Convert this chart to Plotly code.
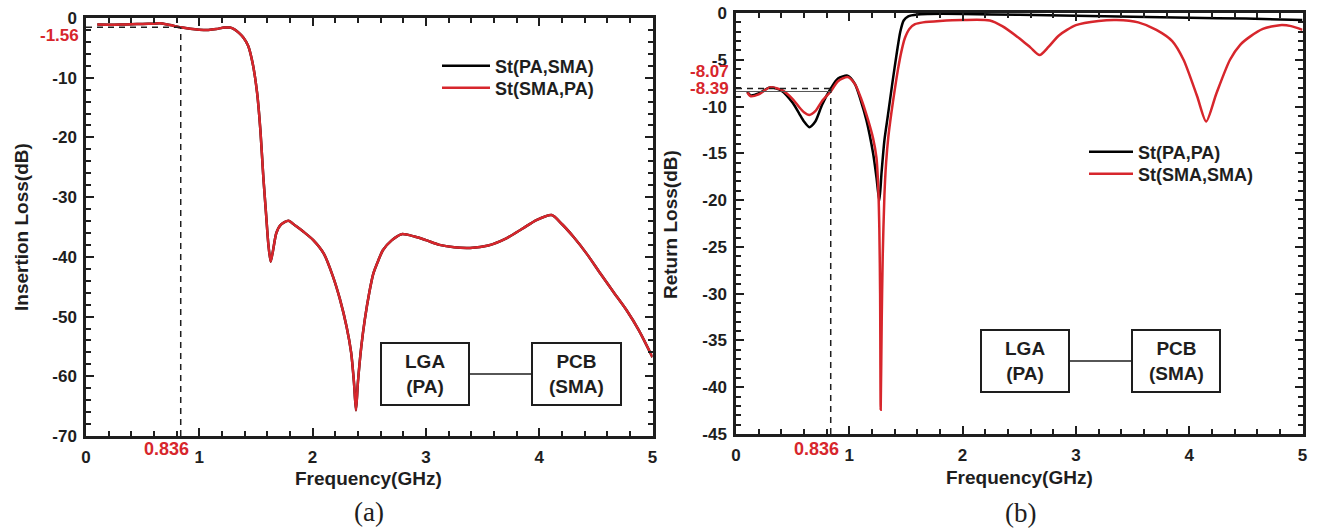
import plotly.graph_objects as go

W, H = 1319, 531
RED = "#d7262c"
INK = "#1e1e1e"
FONT = "Liberation Sans, Arial, sans-serif"

# ---------------- data: (a) insertion loss ----------------
il_freq = [0.1, 0.2, 0.3, 0.4, 0.5, 0.6, 0.65, 0.72, 0.836, 0.92, 1.0, 1.08, 1.15, 1.22, 1.27,
           1.31, 1.35, 1.39, 1.43, 1.47, 1.51, 1.54, 1.565, 1.59, 1.61, 1.63, 1.65, 1.68,
           1.72, 1.786, 1.85, 1.92, 2.006, 2.1, 2.18, 2.24, 2.30, 2.34, 2.365, 2.383, 2.40,
           2.43, 2.46, 2.5, 2.536, 2.58, 2.62, 2.7, 2.786, 2.9, 3.0, 3.12, 3.25, 3.39, 3.55,
           3.71, 3.85, 3.98, 4.11, 4.2, 4.3, 4.42, 4.54, 4.66, 4.77, 4.88, 5.0]
il_pa_sma = [-1.1, -1.12, -1.1, -1.05, -1.0, -0.95, -0.9, -1.1, -1.56, -1.8, -1.95, -2.0, -1.85,
             -1.6, -1.6, -1.9, -2.5, -3.3, -4.6, -7.5, -12.5, -19, -26.6, -33, -38, -40.8,
             -39, -36, -34.6, -33.95, -34.8, -35.8, -37.2, -39.5, -43.3, -47, -51.7, -56, -61,
             -65.7, -61, -55, -50.6, -46, -42.8, -40.6, -38.9, -37.2, -36.2, -36.6, -37.2,
             -38.0, -38.4, -38.5, -38.1, -36.9, -35.3, -33.8, -33.0, -34.5, -36.6, -39.5,
             -42.8, -46, -48.9, -52.3, -56.8]
il_sma_pa = list(il_pa_sma)

# ---------------- data: (b) return loss ----------------
rl_pa_freq = [0.1, 0.13, 0.2, 0.3, 0.4, 0.5, 0.56, 0.6, 0.647, 0.7, 0.76, 0.836, 0.9, 0.985,
              1.05, 1.1, 1.15, 1.21, 1.24, 1.265, 1.285, 1.31, 1.34, 1.38, 1.42, 1.45, 1.48,
              1.52, 1.6, 1.7, 2.0, 2.5, 3.0, 3.5, 4.0, 4.5, 5.0]
rl_pa_pa = [-8.4, -8.8, -8.6, -7.95, -8.3, -9.6, -10.8, -11.6, -12.2, -11.6, -9.8, -8.07,
            -7.0, -6.7, -7.6, -9.3, -11.4, -15, -17.6, -20.1, -17, -13.6, -11, -7.5, -4.2,
            -2.0, -0.8, -0.35, -0.15, -0.1, -0.1, -0.2, -0.3, -0.4, -0.5, -0.6, -0.75]

rl_sma_freq = [0.1, 0.13, 0.2, 0.3, 0.4, 0.5, 0.56, 0.6, 0.647, 0.7, 0.76, 0.836, 0.9, 0.985,
               1.05, 1.1, 1.165, 1.21, 1.24, 1.255, 1.265, 1.272, 1.277, 1.286, 1.295, 1.31,
               1.325, 1.345, 1.37, 1.40, 1.43, 1.46, 1.49, 1.53, 1.58, 1.65, 1.8, 2.0, 2.24,
               2.35, 2.5, 2.6, 2.68, 2.76, 2.85, 3.0, 3.2, 3.36, 3.55, 3.71, 3.85, 3.95, 4.07,
               4.15, 4.24, 4.36, 4.45, 4.54, 4.65, 4.8, 4.9, 5.0]
rl_sma_sma = [-8.5, -8.9, -8.7, -7.95, -8.2, -9.2, -10.1, -10.6, -10.9, -10.5, -9.4, -8.39,
              -7.3, -6.85, -7.6, -9.0, -11.4, -13.4, -15.5, -18.5, -23, -30, -42.4, -33, -26,
              -19.5, -16, -13.2, -10.8, -8.3, -6.0, -4.1, -2.7, -1.7, -1.2, -1.0, -0.85, -0.75,
              -0.8, -1.4, -2.7, -3.7, -4.5, -3.6, -2.4, -1.3, -0.85, -0.75, -1.0, -1.8, -3.0,
              -5.0, -8.9, -11.6, -8.6, -5.0, -3.4, -2.5, -1.7, -1.3, -1.4, -1.8]

# marker values
f_mark = 0.836
il_mark = -1.56
rl_mark_pa = -8.07
rl_mark_sma = -8.39

x_ticks = [0, 1, 2, 3, 4, 5]
x_ticktext = ["0", "1", "2", "3", "4", "5"]
il_ticks = [0, -10, -20, -30, -40, -50, -60, -70]
il_ticktext = ["0", "-10", "-20", "-30", "-40", "-50", "-60", "-70"]
rl_ticks = [0, -5, -10, -15, -20, -25, -30, -35, -40, -45]
rl_ticktext = ["0", "-5", "-10", "-15", "-20", "-25", "-30", "-35", "-40", "-45"]


def px(x):
    return x / W


def py(y):
    return 1 - y / H


fig = go.Figure()

line_style = dict(width=2.5, shape="spline", smoothing=0.7)
fig.add_trace(go.Scatter(x=il_freq, y=il_pa_sma, name="St(PA,SMA)", mode="lines",
                         line=dict(color="black", **line_style),
                         xaxis="x", yaxis="y", legend="legend"))
fig.add_trace(go.Scatter(x=il_freq, y=il_sma_pa, name="St(SMA,PA)", mode="lines",
                         line=dict(color=RED, **line_style),
                         xaxis="x", yaxis="y", legend="legend2"))
fig.add_trace(go.Scatter(x=rl_pa_freq, y=rl_pa_pa, name="St(PA,PA)", mode="lines",
                         line=dict(color="black", **line_style),
                         xaxis="x2", yaxis="y2", legend="legend3"))
fig.add_trace(go.Scatter(x=rl_sma_freq, y=rl_sma_sma, name="St(SMA,SMA)", mode="lines",
                         line=dict(color=RED, **line_style),
                         xaxis="x2", yaxis="y2", legend="legend4"))

tickfont = dict(family=FONT, size=17, color=INK, weight="bold")


def xaxis(domain, anchor):
    return dict(domain=domain, anchor=anchor, range=[0, 5], tickvals=x_ticks,
                ticktext=x_ticktext, automargin=False,
                showline=True, linewidth=2.5, linecolor=INK, mirror="ticks",
                ticks="inside", ticklen=8, tickwidth=2, tickcolor=INK,
                minor=dict(dtick=0.2, ticks="inside", ticklen=5, tickwidth=2, tickcolor=INK),
                showgrid=False, zeroline=False, tickfont=tickfont, ticklabelstandoff=4)


def yaxis(domain, anchor, rng, tv, tt, md):
    return dict(domain=domain, anchor=anchor, range=rng, tickvals=tv, ticktext=tt,
                automargin=False,
                showline=True, linewidth=2.5, linecolor=INK, mirror="ticks",
                ticks="inside", ticklen=8, tickwidth=2, tickcolor=INK,
                minor=dict(dtick=md, ticks="inside", ticklen=5, tickwidth=2, tickcolor=INK),
                showgrid=False, zeroline=False, tickfont=tickfont, ticklabelstandoff=3)


def legend_at(x, y, w):
    return dict(x=px(x), y=py(y), xanchor="left", yanchor="middle", bgcolor="rgba(0,0,0,0)",
                font=dict(family=FONT, size=18, color=INK, weight="bold"), itemwidth=w,
                borderwidth=0)


fig.update_layout(
    width=W, height=H, margin=dict(l=0, r=0, t=0, b=0, autoexpand=False),
    paper_bgcolor="white", plot_bgcolor="white",
    xaxis=xaxis([px(86), px(652.5)], "y"),
    yaxis=yaxis([py(436), py(18)], "x", [-70, 0], il_ticks, il_ticktext, 2),
    xaxis2=xaxis([px(736), px(1302.5)], "y2"),
    yaxis2=yaxis([py(434), py(13)], "x2", [-45, 0], rl_ticks, rl_ticktext, 1),
    legend=legend_at(437, 66, 48),
    legend2=legend_at(437, 88, 48),
    legend3=legend_at(1084, 152, 44),
    legend4=legend_at(1084, 174, 44),
    showlegend=True,
)

dash = "6px,5px"
# marker lines (a)
fig.add_shape(type="line", xref="x", yref="y", x0=f_mark, x1=f_mark, y0=-70, y1=il_mark,
              line=dict(color=INK, width=1.5, dash=dash))
fig.add_shape(type="line", xref="x", yref="y", x0=0, x1=f_mark, y0=il_mark, y1=il_mark,
              line=dict(color=INK, width=1.5, dash=dash))
# marker lines (b)
fig.add_shape(type="line", xref="x2", yref="y2", x0=f_mark, x1=f_mark, y0=-45, y1=rl_mark_pa,
              line=dict(color=INK, width=1.5, dash=dash))
fig.add_shape(type="line", xref="x2", yref="y2", x0=0, x1=f_mark, y0=rl_mark_pa, y1=rl_mark_pa,
              line=dict(color=INK, width=1.5, dash=dash))
fig.add_shape(type="line", xref="x2", yref="y2", x0=0, x1=f_mark, y0=rl_mark_sma, y1=rl_mark_sma,
              line=dict(color="#555", width=1))


def box(x0, y0, x1, y1):
    fig.add_shape(type="rect", xref="paper", yref="paper", x0=px(x0), x1=px(x1),
                  y0=py(y1), y1=py(y0), line=dict(color=INK, width=2), fillcolor="white")


def hline(x0, x1, y):
    fig.add_shape(type="line", xref="paper", yref="paper", x0=px(x0), x1=px(x1),
                  y0=py(y), y1=py(y), line=dict(color=INK, width=1.5))


def text(x, y, s, size=19, color=INK, xanchor="center", family=FONT, bold=True, angle=0):
    fig.add_annotation(x=px(x), y=py(y), xref="paper", yref="paper", text=s, showarrow=False,
                       xanchor=xanchor, yanchor="middle", textangle=angle,
                       font=dict(family=family, size=size, color=color,
                                 weight="bold" if bold else "normal"))


# block diagrams
box(381, 343, 469, 405)
box(532, 343, 621, 405)
hline(469, 532, 374)
text(425, 374, "LGA<br>(PA)")
text(576.5, 374, "PCB<br>(SMA)")

box(981, 330, 1069, 392)
box(1132, 330, 1220, 392)
hline(1069, 1132, 361)
text(1025, 361, "LGA<br>(PA)")
text(1176, 361, "PCB<br>(SMA)")

# red marker labels
text(81, 35, "-1.56", size=17, color=RED, xanchor="right")
text(166, 449, "0.836", size=18, color=RED)
text(731, 72, "-8.07", size=17, color=RED, xanchor="right")
text(731, 89, "-8.39", size=17, color=RED, xanchor="right")
text(816, 449, "0.836", size=18, color=RED)

# axis titles
text(369, 478, "Frequency(GHz)")
text(1019, 477, "Frequency(GHz)")
text(21, 227, "Insertion Loss(dB)", angle=-90)
text(671, 224, "Return Loss(dB)", angle=-90)

# panel labels
text(369, 512, "(a)", size=27, family="Liberation Serif, Times New Roman, serif", bold=False)
text(1020, 513, "(b)", size=27, family="Liberation Serif, Times New Roman, serif", bold=False)

fig.write_html("out.html")
